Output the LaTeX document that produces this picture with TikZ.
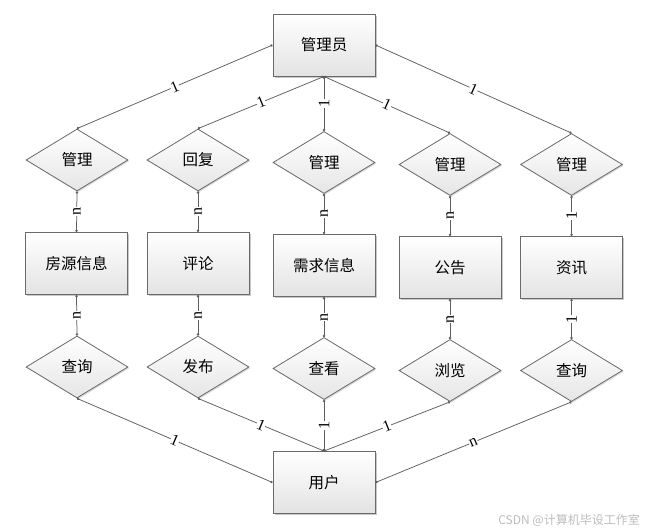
\documentclass[tikz,border=0pt]{standalone}
\usepackage{fontspec}
\newfontfamily\cjk{Noto Sans CJK SC}
\newfontfamily\cardfont{Liberation Serif}
\usetikzlibrary{shapes.geometric,shadows,arrows.meta}
\definecolor{edgegray}{HTML}{6A6A6A}
\definecolor{linegray}{HTML}{5E5E5E}
\definecolor{wmgray}{HTML}{BDBDBD}
\begin{document}
\begin{tikzpicture}[x=1pt,y=-1pt,
  entity/.style={rectangle, draw=edgegray, line width=0.9pt, top color=white, bottom color=black!11,
    minimum width=102pt, minimum height=62pt, inner sep=0pt,
    font=\cjk\fontsize{15.5}{18}\selectfont,
    drop shadow={shadow xshift=1.6pt, shadow yshift=-1.6pt, opacity=0.35, fill=black!60}},
  rel/.style={diamond, draw=edgegray, line width=0.8pt, top color=white, bottom color=black!10,
    minimum width=102pt, minimum height=62pt, inner sep=0pt, aspect=1.64,
    font=\cjk\fontsize{15.5}{18}\selectfont,
    drop shadow={shadow xshift=1.2pt, shadow yshift=-1.2pt, opacity=0.25, fill=black!60}},
  link/.style={draw=linegray, line width=0.75pt, {Circle[length=2.4pt]}-{Circle[length=2.4pt]}},
  card/.style={font=\cardfont\fontsize{16}{17}\selectfont, fill=white, inner sep=0.3pt, text=black},
  vcard/.style={card, rotate=90},
]
\useasboundingbox[fill=white] (0,0) rectangle (645,532);

% entities
\node[entity] (admin) at (324,45) {管理员};
\node[entity] (e1) at (76.5,263.5) {房源信息};
\node[entity] (e2) at (198,263.5) {评论};
\node[entity] (e3) at (324,265.5) {需求信息};
\node[entity] (e4) at (450,267.5) {公告};
\node[entity] (e5) at (571.5,267.5) {资讯};
\node[entity] (user) at (324,482.5) {用户};

% relationships, upper row
\node[rel] (d1) at (77,160) {管理};
\node[rel] (d2) at (198,160) {回复};
\node[rel] (d3) at (324,162.5) {管理};
\node[rel] (d4) at (450,164.5) {管理};
\node[rel] (d5) at (571.5,164.5) {管理};

% relationships, lower row
\node[rel] (r1) at (77,367) {查询};
\node[rel] (r2) at (198,367) {发布};
\node[rel] (r3) at (324,368.5) {查看};
\node[rel] (r4) at (450,370.5) {浏览};
\node[rel] (r5) at (571.5,370.5) {查询};

% admin to upper relationships
\draw[link] (admin.west) -- node[card, sloped] {1} (d1.north);
\draw[link] (admin.south) -- node[card, sloped] {1} (d2.north);
\draw[link] (admin.south) -- node[vcard] {1} (d3.north);
\draw[link] (admin.south) -- node[card, sloped] {1} (d4.north);
\draw[link] (admin.east) -- node[card, sloped] {1} (d5.north);

% upper relationships to entities
\draw[link] (d1.south) -- node[vcard] {n} (e1.north);
\draw[link] (d2.south) -- node[vcard] {n} (e2.north);
\draw[link] (d3.south) -- node[vcard] {n} (e3.north);
\draw[link] (d4.south) -- node[vcard] {n} (e4.north);
\draw[link] (d5.south) -- node[vcard] {1} (e5.north);

% entities to lower relationships
\draw[link] (e1.south) -- node[vcard] {n} (r1.north);
\draw[link] (e2.south) -- node[vcard] {n} (r2.north);
\draw[link] (e3.south) -- node[vcard] {n} (r3.north);
\draw[link] (e4.south) -- node[vcard] {n} (r4.north);
\draw[link] (e5.south) -- node[vcard] {1} (r5.north);

% lower relationships to user
\draw[link] (r1.south) -- node[card, sloped] {1} (user.west);
\draw[link] (r2.south) -- node[card, sloped] {1} (user.north);
\draw[link] (r3.south) -- node[vcard] {1} (user.north);
\draw[link] (r4.south) -- node[card, sloped] {1} (user.north);
\draw[link] (r5.south) -- node[card, sloped] {n} (user.east);

% watermark
\node[anchor=east, text=wmgray, inner sep=0pt, font=\cjk\fontsize{12}{14}\selectfont] (wm) at (640,520) {CSDN @计算机毕设工作室};
\end{tikzpicture}
\end{document}
